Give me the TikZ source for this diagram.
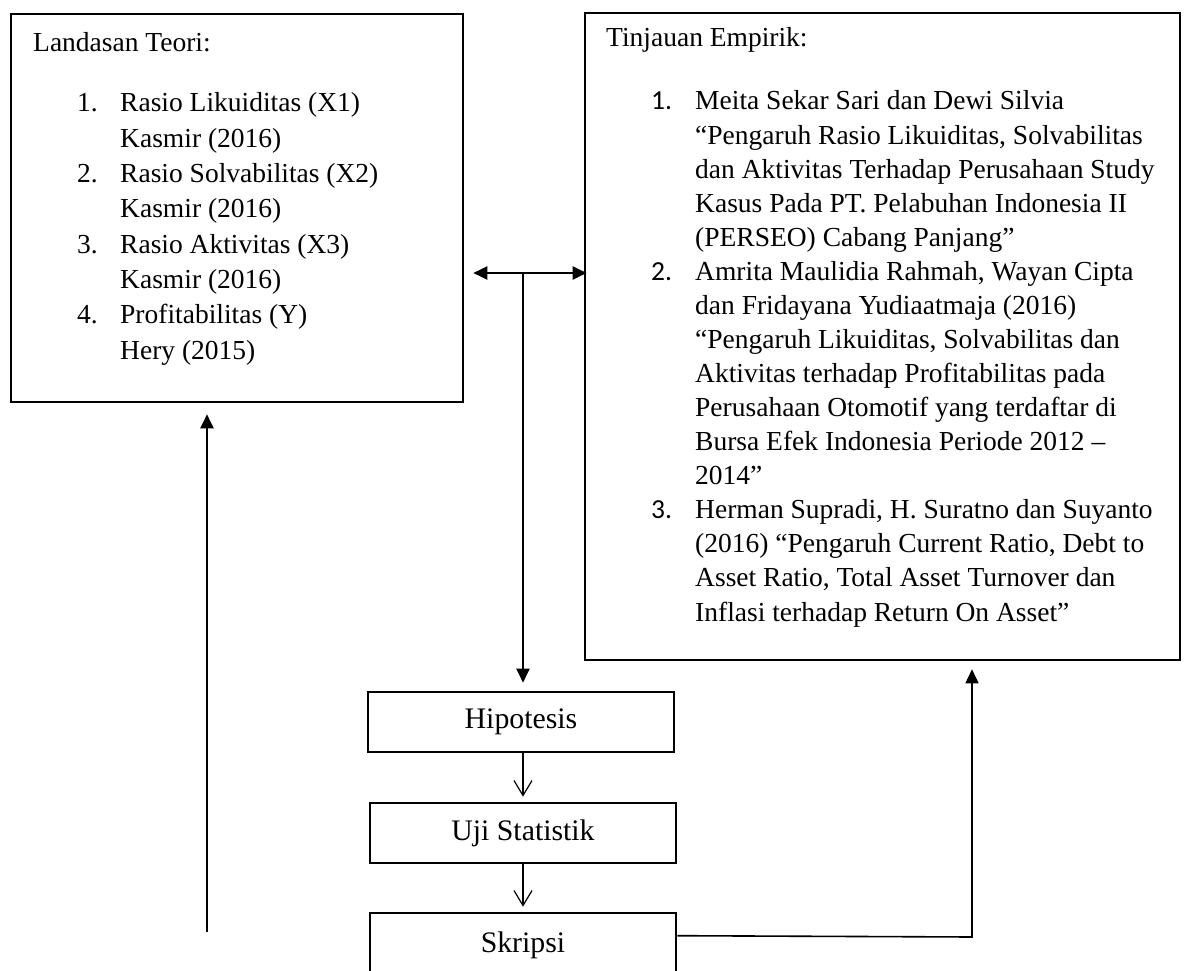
\documentclass[tikz,border=0pt]{standalone}
\usepackage{fontspec}
\setmainfont{Liberation Serif}
\newfontfamily\numfont{Carlito}
\usetikzlibrary{arrows.meta,calc}
\begin{document}
\begin{tikzpicture}[x=1pt,y=-1pt,
  box/.style={draw, line width=2.6pt, inner sep=0pt},
  txt/.style={inner sep=0pt, anchor=base west, font=\fontsize{27.5}{33}\selectfont},
  ctxt/.style={font=\fontsize{29.8}{36}\selectfont},
  fa/.style={line width=2pt, -{Triangle[length=14pt,width=13pt]}},
  fda/.style={line width=2.2pt, {Triangle[length=14pt,width=13pt]}-{Triangle[length=14pt,width=13pt]}},
  va/.style={line width=1.2pt, -{Straight Barb[length=15pt,width=18pt,line width=1.2pt]}}
]
\useasboundingbox (0,0) rectangle (1184,971);
\fill[white] (0,0) rectangle (1184,971);

% boxes
\node[box, minimum width=452pt, minimum height=388pt] (lt) at (237,208) {};
\node[box, minimum width=595pt, minimum height=647pt] (rt) at (882.5,336.5) {};
\node[box, ctxt, minimum width=306pt, minimum height=60pt] (hip) at (521,722) {Hipotesis};
\node[box, ctxt, minimum width=306pt, minimum height=60pt] (uji) at (523,833) {Uji Statistik};
\node[box, ctxt, minimum width=306pt, minimum height=64pt] (skr) at (523,945) {Skripsi};

% left box text
\node[txt] (lhead) at (33,52) {Landasan Teori:};
\foreach \t [count=\i from 0] in {{Rasio Likuiditas (X1)},{Kasmir (2016)},{Rasio Solvabilitas (X2)},{Kasmir (2016)},{Rasio Aktivitas (X3)},{Kasmir (2016)},{Profitabilitas (Y)},{Hery (2015)}}
  \node[txt] (ll\i) at (120,{112+35.3*\i}) {\t};
\node[txt] (ln1) at (77,112) {1.};
\node[txt] (ln2) at (77,{112+35.3*2}) {2.};
\node[txt] (ln3) at (77,{112+35.3*4}) {3.};
\node[txt] (ln4) at (77,{112+35.3*6}) {4.};

% right box text
\node[txt] (rhead) at (606,47) {Tinjauan Empirik:};
\foreach \t [count=\i from 0] in {
  {Meita Sekar Sari dan Dewi Silvia},
  {“Pengaruh Rasio Likuiditas, Solvabilitas},
  {dan Aktivitas Terhadap Perusahaan Study},
  {Kasus Pada PT. Pelabuhan Indonesia II},
  {(PERSEO) Cabang Panjang”},
  {Amrita Maulidia Rahmah, Wayan Cipta},
  {dan Fridayana Yudiaatmaja (2016)},
  {“Pengaruh Likuiditas, Solvabilitas dan},
  {Aktivitas terhadap Profitabilitas pada},
  {Perusahaan Otomotif yang terdaftar di},
  {Bursa Efek Indonesia Periode 2012 –},
  {2014”},
  {Herman Supradi, H. Suratno dan Suyanto},
  {(2016) “Pengaruh Current Ratio, Debt to},
  {Asset Ratio, Total Asset Turnover dan},
  {Inflasi terhadap Return On Asset”}}
  \node[txt] (rl\i) at (695,{110+34.07*\i}) {\t};
\node[txt] (rn1) at (651,110) {\numfont 1.};
\node[txt] (rn2) at (651,{110+34.07*5}) {\numfont 2.};
\node[txt] (rn3) at (651,{110+34.07*12}) {\numfont 3.};

% connectors
\coordinate (j) at (523,273);
\draw[fda] ($(lt.east |- j)+(9,0)$) -- ($(rt.west |- j)+(3,0)$);
\draw[fa] (j) -- ($(hip.north -| j)+(0,-8)$);
\draw[va] (hip.south -| uji.north) -- ($(uji.north)+(0,-5)$);
\draw[va] (uji.south) -- ($(skr.north)+(0,-5)$);
\coordinate (c) at (972,937);
\draw[fa, line width=1.6pt] ($(skr.north east)+(0,24)$) -- (c) -- ($(c |- rt.south)+(0,8)$);
\coordinate (lb) at (207,932);
\draw[fa] (lb) -- ($(lb |- lt.south)+(0,11)$);
\end{tikzpicture}
\end{document}
